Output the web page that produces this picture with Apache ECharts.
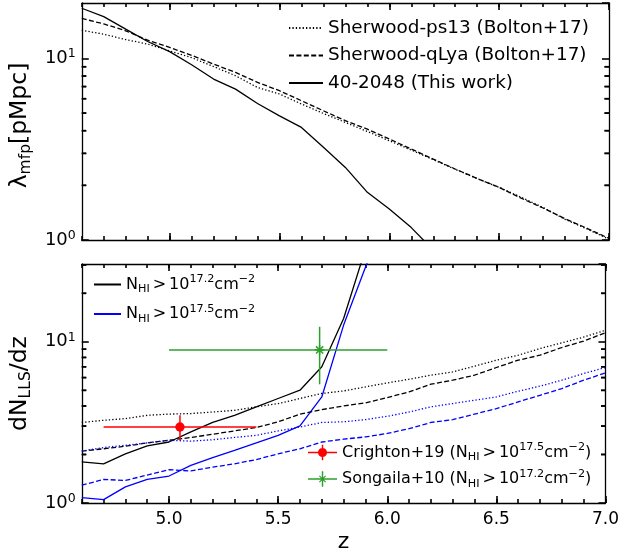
<!DOCTYPE html>
<html>
<head>
<meta charset="utf-8">
<script src="https://cdn.jsdelivr.net/npm/echarts@6/dist/echarts.min.js"></script>
<style>
  html, body { margin: 0; padding: 0; background: #fff; }
  #chart { width: 622px; height: 559px; }
</style>
</head>
<body>
<div id="chart"></div>
<script>
// Redshift grid shared by all model curves
const zGrid = [4.6, 4.7, 4.8, 4.9, 5.0, 5.1, 5.2, 5.3, 5.4, 5.5, 5.6, 5.7, 5.8,
               5.9, 6.0, 6.1, 6.2, 6.3, 6.4, 6.5, 6.6, 6.7, 6.8, 6.9, 7.0];

// Mean free path of ionising photons [pMpc]
const mfpPs13 = [14.3, 13.6, 12.7, 12.0, 11.0, 10.1, 9.03, 8.03, 6.92, 6.37, 5.61, 4.98, 4.44,
                 3.96, 3.52, 3.13, 2.77, 2.45, 2.18, 1.95, 1.72, 1.51, 1.30, 1.15, 1.01];
const mfpQLya = [16.6, 15.5, 14.2, 12.6, 11.5, 10.4, 9.31, 8.38, 7.38, 6.64, 5.85, 5.15, 4.54,
                 4.08, 3.60, 3.17, 2.79, 2.46, 2.18, 1.95, 1.70, 1.50, 1.31, 1.16, 1.02];
const mfp40 = [18.9, 17.0, 14.5, 12.4, 10.9, 9.23, 7.70, 6.78, 5.65, 4.83, 4.17, 3.24, 2.51,
               1.83, 1.48, 1.17, 0.88, null, null, null, null, null, null, null, null];

// Incidence of Lyman-limit systems, N_HI > 10^17.2 cm^-2
const lls172Ps13 = [3.16, 3.26, 3.34, 3.50, 3.56, 3.59, 3.67, 3.76, 3.95, 4.14, 4.45, 4.78, 4.96,
                    5.25, 5.56, 5.86, 6.21, 6.51, 7.06, 7.69, 8.26, 9.09, 9.86, 10.7, 11.8];
const lls172QLya = [2.10, 2.17, 2.25, 2.36, 2.45, 2.55, 2.67, 2.80, 2.94, 3.19, 3.56, 3.80, 4.00,
                    4.18, 4.51, 4.89, 5.46, 5.78, 6.21, 6.93, 7.69, 8.26, 9.22, 10.1, 11.4];
const lls17240 = [1.80, 1.75, 2.02, 2.26, 2.39, 2.76, 3.16, 3.50, 3.95, 4.45, 5.01, 7.00, 13.96,
                  37.6, null, null, null, null, null, null, null, null, null, null, null];

// Incidence of Lyman-limit systems, N_HI > 10^17.5 cm^-2
const lls175Ps13 = [2.10, 2.21, 2.28, 2.36, 2.45, 2.42, 2.47, 2.55, 2.63, 2.80, 2.96, 3.16, 3.19,
                    3.29, 3.45, 3.67, 3.95, 4.14, 4.34, 4.55, 4.94, 5.31, 5.78, 6.36, 6.93];
const lls175QLya = [1.29, 1.40, 1.38, 1.49, 1.61, 1.58, 1.67, 1.75, 1.86, 2.02, 2.17, 2.39, 2.49,
                    2.57, 2.70, 2.89, 3.16, 3.29, 3.56, 3.85, 4.24, 4.66, 5.13, 5.78, 6.42];
const lls17540 = [1.08, 1.05, 1.26, 1.40, 1.47, 1.71, 1.91, 2.12, 2.36, 2.63, 3.01, 4.55, 12.7,
                  29.0, 65.0, null, null, null, null, null, null, null, null, null, null];

// Observations: [z, dN/dz, z_low, z_high, dN/dz_low, dN/dz_high]
const crighton19 = [5.05, 2.96, 4.70, 5.40, 2.45, 3.50];
const songaila10 = [5.69, 8.90, 5.00, 6.00, 5.45, 12.4];

// Axis ticks
const zMajorTicks = [5.0, 5.5, 6.0, 6.5, 7.0];
const mfpMinorTicks = [2, 3, 4, 5, 6, 7, 8, 9];
const llsMinorTicks = [2, 3, 4, 5, 6, 7, 8, 9, 20, 30];

const FONT = 'DejaVu Sans';
const BLACK = '#000000';
const BLUE = '#0000ff';
const RED = '#ff0000';
const GREEN = '#2ca02c';
const DOTTED = [1.3, 2.1];
const DASHED = [5, 2.4];
const Z_MIN = 4.6, Z_MAX = 7.0;
const TICK_W = 1.6;

const NAME_PS13 = 'Sherwood-ps13 (Bolton+17)';
const NAME_QLYA = 'Sherwood-qLya (Bolton+17)';
const NAME_40 = '40-2048 (This work)';
const NAME_172 = 'NHI>17.2';
const NAME_175 = 'NHI>17.5';
const NAME_CRI = 'Crighton+19';
const NAME_SON = 'Songaila+10';

function pairs(vals) {
  const out = [];
  zGrid.forEach((z, i) => { if (vals[i] != null) out.push([z, vals[i]]); });
  return out;
}

const richText = {
  t: { fontSize: 16, fontFamily: FONT, color: BLACK, lineHeight: 21 },
  sub: { fontSize: 11.2, fontFamily: FONT, color: BLACK, verticalAlign: 'bottom', lineHeight: 12.5 },
  sup: { fontSize: 11.2, fontFamily: FONT, color: BLACK, verticalAlign: 'top', lineHeight: 11 },
  g: { fontSize: 16, fontFamily: FONT, color: BLACK, lineHeight: 21, padding: [0, 3, 0, 3] }
};

function columnLabel(exp) {
  return '{t|N}{sub|HI}{g|>}{t|10}{sup|' + exp + '}{t|cm}{sup|\u22122}';
}

// Frame axes for one panel: major + minor ticks on bottom and top
function xAxesFor(gridIndex, withLabels) {
  const base = {
    type: 'value', gridIndex, min: Z_MIN, max: Z_MAX,
    splitLine: { show: false }
  };
  const major = (pos, labels) => Object.assign({}, base, {
    position: pos,
    axisLine: { show: true, onZero: false, lineStyle: { color: BLACK, width: 1.3 } },
    axisTick: { show: true, inside: true, length: 7, customValues: zMajorTicks,
                lineStyle: { color: BLACK, width: TICK_W } },
    axisLabel: labels ? {
      show: true, customValues: zMajorTicks, margin: 8,
      fontSize: 17, fontFamily: FONT, color: BLACK,
      formatter: v => v.toFixed(1)
    } : { show: false },
    name: labels ? 'z' : '',
    nameLocation: 'middle', nameGap: 28,
    nameTextStyle: { fontSize: 22, fontFamily: FONT, color: BLACK }
  });
  const minor = pos => Object.assign({}, base, {
    position: pos, interval: 0.1,
    axisLine: { show: false, onZero: false },
    axisTick: { show: true, inside: true, length: 4, lineStyle: { color: BLACK, width: TICK_W } },
    axisLabel: { show: false }
  });
  return [major('bottom', withLabels), minor('bottom'), major('top', false), minor('top')];
}

function yAxesFor(gridIndex, max, nameRich, nameGap, namePad) {
  const base = {
    type: 'log', logBase: 10, gridIndex, min: 1, max,
    splitLine: { show: false },
    axisLine: { show: true, onZero: false, lineStyle: { color: BLACK, width: 1.3 } },
    axisTick: { show: true, inside: true, length: 7, lineStyle: { color: BLACK, width: TICK_W } }
  };
  return [
    Object.assign({}, base, {
      position: 'left',
      axisLabel: {
        show: true, margin: 6, showMaxLabel: false,
        formatter: v => '{b|10}{s|' + Math.round(Math.log10(v)) + '}',
        rich: {
          b: { fontSize: 18, fontFamily: FONT, color: BLACK, lineHeight: 22 },
          s: { fontSize: 12.5, fontFamily: FONT, color: BLACK, verticalAlign: 'top', lineHeight: 12 }
        }
      },
      name: nameRich, nameLocation: 'middle', nameGap,
      nameTextStyle: {
        fontSize: 23.5, fontFamily: FONT, color: BLACK, padding: namePad,
        rich: {
          n: { fontSize: 23.5, fontFamily: FONT, color: BLACK, lineHeight: 28 },
          sub: { fontSize: 15.5, fontFamily: FONT, color: BLACK, verticalAlign: 'bottom', lineHeight: 16 }
        }
      }
    }),
    Object.assign({}, base, { position: 'right', axisLabel: { show: false } })
  ];
}

// Short log-decade minor ticks on both vertical frame edges
function minorYTicks(xAxisIndex, yAxisIndex, values) {
  return {
    type: 'custom', xAxisIndex, yAxisIndex,
    data: values.map(v => [Z_MIN, v]),
    encode: { x: 0, y: 1 },
    renderItem(params, api) {
      const y = api.coord([api.value(0), api.value(1)])[1];
      const cs = params.coordSys;
      const s = { stroke: BLACK, lineWidth: TICK_W };
      return {
        type: 'group', children: [
          { type: 'line', shape: { x1: cs.x, y1: y, x2: cs.x + 4.5, y2: y }, style: s },
          { type: 'line', shape: { x1: cs.x + cs.width, y1: y, x2: cs.x + cs.width - 4.5, y2: y }, style: s }
        ]
      };
    }
  };
}

function curve(name, vals, color, dash, xAxisIndex, yAxisIndex) {
  return {
    type: 'line', name, xAxisIndex, yAxisIndex, data: pairs(vals),
    symbol: 'none', smooth: false, clip: true, z: 3,
    itemStyle: { color },
    lineStyle: { color, width: 1.3, type: dash }
  };
}

// Measurement with horizontal and vertical error bars
function measurement(name, pt, color, marker) {
  return {
    type: 'custom', name, xAxisIndex: 4, yAxisIndex: 2, z: 4, clip: false,
    itemStyle: { color },
    data: [pt],
    encode: { x: 0, y: 1 },
    renderItem(params, api) {
      const c = api.coord([api.value(0), api.value(1)]);
      const l = api.coord([api.value(2), api.value(1)]);
      const r = api.coord([api.value(3), api.value(1)]);
      const b = api.coord([api.value(0), api.value(4)]);
      const t = api.coord([api.value(0), api.value(5)]);
      const s = { stroke: color, lineWidth: 1.5 };
      const children = [
        { type: 'line', shape: { x1: l[0], y1: l[1], x2: r[0], y2: r[1] }, style: s },
        { type: 'line', shape: { x1: b[0], y1: b[1], x2: t[0], y2: t[1] }, style: s }
      ];
      if (marker === 'circle') {
        children.push({ type: 'circle', shape: { cx: c[0], cy: c[1], r: 4.7 }, style: { fill: color } });
      } else {
        const d = 3.6;
        children.push(
          { type: 'line', shape: { x1: c[0] - d, y1: c[1] - d, x2: c[0] + d, y2: c[1] + d }, style: s },
          { type: 'line', shape: { x1: c[0] - d, y1: c[1] + d, x2: c[0] + d, y2: c[1] - d }, style: s },
          { type: 'line', shape: { x1: c[0] - 5, y1: c[1], x2: c[0] + 5, y2: c[1] }, style: s },
          { type: 'line', shape: { x1: c[0], y1: c[1] - 5, x2: c[0], y2: c[1] + 5 }, style: s }
        );
      }
      return { type: 'group', children };
    }
  };
}

const ICON_ERR_DOT = 'path://M0,7.25H30V8.75H0Z M14.25,0H15.75V16H14.25Z ' +
  'M10.3,8A4.7,4.7 0 1 1 19.7,8A4.7,4.7 0 1 1 10.3,8Z';
const ICON_ERR_STAR = 'path://M0,7.25H30V8.75H0Z M14.25,0H15.75V16H14.25Z ' +
  'M12.22,4.38L18.62,10.78L17.78,11.62L11.38,5.22Z M18.62,5.22L12.22,11.62L11.38,10.78L17.78,4.38Z';

const chart = echarts.init(document.getElementById('chart'), null, { renderer: 'canvas' });

const option = {
  backgroundColor: '#ffffff',
  animation: false,
  textStyle: { fontFamily: FONT },
  grid: [
    { left: 78, right: 13, top: 3, height: 237 },
    { left: 78, right: 13, top: 264, height: 239 }
  ],
  xAxis: [].concat(xAxesFor(0, false), xAxesFor(1, true)),
  yAxis: [].concat(
    yAxesFor(0, 20.2, '{n|\u03bb}{sub|mfp}{n|[pMpc]}', 45, [0, 8, 0, 0]),
    yAxesFor(1, 30.4, '{n|dN}{sub|LLS}{n|/dz}', 43, [0, 0, 0, 0])
  ),
  legend: [
    {
      data: [NAME_PS13, NAME_QLYA, NAME_40],
      orient: 'vertical', left: 288, top: 17, padding: 0,
      itemWidth: 34, itemHeight: 14, itemGap: 5.5,
      itemStyle: { opacity: 0 },
      textStyle: { fontSize: 18.4, fontFamily: FONT, color: BLACK, lineHeight: 22 },
      selectedMode: false
    },
    {
      data: [NAME_172, NAME_175],
      orient: 'vertical', left: 93, top: 274, padding: 0,
      itemWidth: 27, itemHeight: 14, itemGap: 8.5,
      itemStyle: { opacity: 0 },
      formatter: n => columnLabel(n === NAME_172 ? '17.2' : '17.5'),
      textStyle: { fontSize: 16, fontFamily: FONT, color: BLACK, rich: richText },
      selectedMode: false
    },
    {
      data: [
        { name: NAME_CRI, icon: ICON_ERR_DOT },
        { name: NAME_SON, icon: ICON_ERR_STAR }
      ],
      orient: 'vertical', left: 308, top: 442, padding: 0,
      itemWidth: 29, itemHeight: 16, itemGap: 5.5,
      formatter: n => n === NAME_CRI
        ? '{t|Crighton+19 (}' + columnLabel('17.5') + '{t|)}'
        : '{t|Songaila+10 (}' + columnLabel('17.2') + '{t|)}',
      textStyle: { fontSize: 16, fontFamily: FONT, color: BLACK, rich: richText },
      selectedMode: false
    }
  ],
  series: [
    minorYTicks(0, 0, mfpMinorTicks),
    minorYTicks(0, 1, mfpMinorTicks),
    minorYTicks(4, 2, llsMinorTicks),
    minorYTicks(4, 3, llsMinorTicks),
    curve(NAME_PS13, mfpPs13, BLACK, DOTTED, 0, 0),
    curve(NAME_QLYA, mfpQLya, BLACK, DASHED, 0, 0),
    curve(NAME_40, mfp40, BLACK, 'solid', 0, 0),
    curve(NAME_172, lls17240, BLACK, 'solid', 4, 2),
    curve(NAME_175, lls17540, BLUE, 'solid', 4, 2),
    curve('ps13 17.2', lls172Ps13, BLACK, DOTTED, 4, 2),
    curve('qLya 17.2', lls172QLya, BLACK, DASHED, 4, 2),
    curve('ps13 17.5', lls175Ps13, BLUE, DOTTED, 4, 2),
    curve('qLya 17.5', lls175QLya, BLUE, DASHED, 4, 2),
    measurement(NAME_CRI, crighton19, RED, 'circle'),
    measurement(NAME_SON, songaila10, GREEN, 'star')
  ]
};

chart.setOption(option);
</script>
</body>
</html>
